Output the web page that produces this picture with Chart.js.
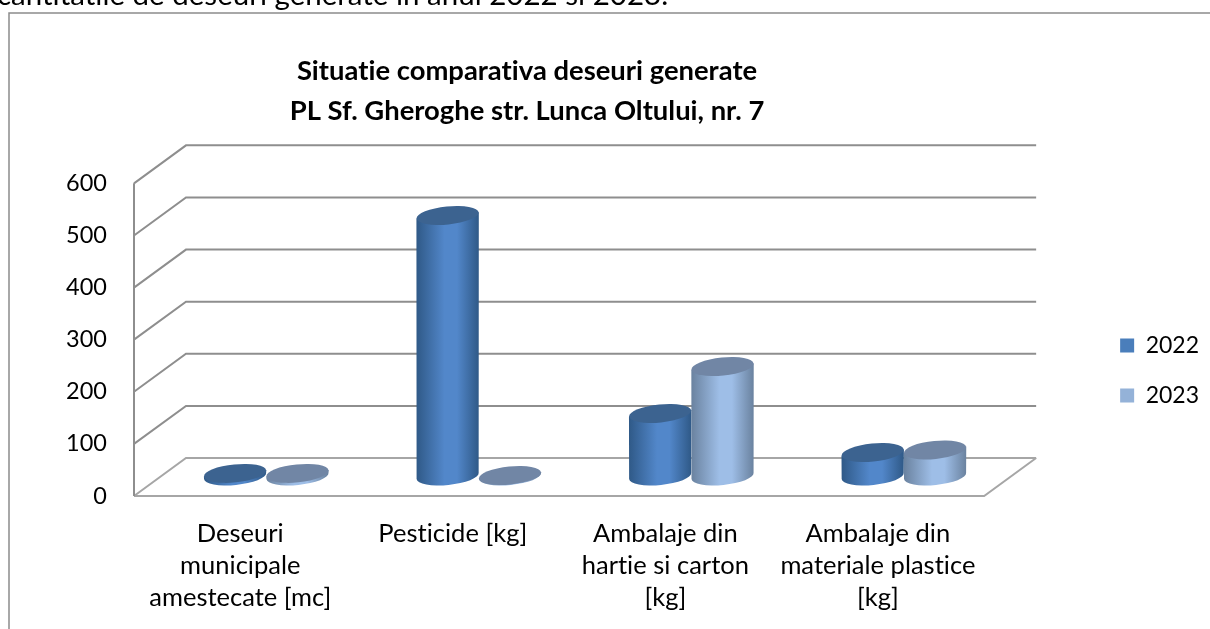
<!DOCTYPE html>
<html>
<head>
<meta charset="utf-8">
<style>
  html, body { margin: 0; padding: 0; background: #fff; overflow: hidden; }
  #wrap { width: 1210px; height: 629px; }
</style>
<script src="https://cdn.jsdelivr.net/npm/chart.js@4/dist/chart.umd.min.js"></script>
</head>
<body>
<div id="wrap"><canvas id="myChart" width="1210" height="629"></canvas></div>
<script>
const categories = [
    ['Deseuri', 'municipale', 'amestecate [mc]'],
    ['Pesticide [kg]'],
    ['Ambalaje din', 'hartie si carton', '[kg]'],
    ['Ambalaje din', 'materiale plastice', '[kg]']
];
const values2022 = [5, 500, 120, 45];
const values2023 = [5, 1, 210, 50];
const seriesNames = ['2022', '2023'];
const yTicks = [0, 100, 200, 300, 400, 500, 600];
const titleLines = ['Situatie comparativa deseuri generate', 'PL Sf. Gheroghe str. Lunca Oltului, nr. 7'];
const captionText = 'cantitatile de deseuri generate in anul 2022 si 2023.';

const FONT = 'Lato, sans-serif';
const DEPTH_X = 52, DEPTH_Y = 38;
const BAR_LIFT = 20;

// side colours of each cylinder: edge, middle, top cap
const tones = [
    { edge: '#2f5987', mid: '#5287ca', cap: '#3c6390' },
    { edge: '#6a829f', mid: '#9ebee7', cap: '#7186a5' }
];

// bar controller that paints cylinders in place of flat rectangles
class CylinderController extends Chart.BarController {
    draw() {
        const ctx = this.chart.ctx;
        const tone = tones[this.index];
        this.getMeta().data.forEach(bar => {
            const cx = bar.x + DEPTH_X / 2;
            const top = bar.y - BAR_LIFT;
            const bottom = bar.base - BAR_LIFT;
            const rx = bar.width / 2;
            const ry = 9;
            const tilt = -0.1;
            const lift = Math.sin(tilt) * rx;

            ctx.save();
            const grad = ctx.createLinearGradient(cx - rx, 0, cx + rx, 0);
            grad.addColorStop(0, tone.edge);
            grad.addColorStop(0.45, tone.mid);
            grad.addColorStop(0.65, tone.mid);
            grad.addColorStop(1, tone.edge);
            ctx.fillStyle = grad;
            ctx.beginPath();
            ctx.ellipse(cx, bottom, rx, ry, tilt, 0, Math.PI);
            ctx.lineTo(cx - rx, top - lift);
            ctx.lineTo(cx + rx, top + lift);
            ctx.closePath();
            ctx.fill();

            ctx.fillStyle = tone.cap;
            ctx.beginPath();
            ctx.ellipse(cx, top, rx, ry, tilt, 0, Math.PI * 2);
            ctx.fill();
            ctx.restore();
        });
    }
}
CylinderController.id = 'cylinder';
CylinderController.defaults = Chart.BarController.defaults;
CylinderController.overrides = Chart.BarController.overrides;
Chart.register(CylinderController);

// outer frame, clipped line of text above it, and the 3D walls behind the bars
const wallsPlugin = {
    id: 'walls',
    afterLayout(chart) {
        chart.titleBlock.left -= 46;
        chart.legend.left += 109;
        chart.legend.right += 109;
        chart.legend.top += 56;
        chart.legend.bottom += 56;
    },
    beforeDraw(chart) {
        chart.ctx.letterSpacing = '0.01px'; // stops the ti ligature, the reference has none
    },
    beforeDatasetsDraw(chart) {
        const ctx = chart.ctx;
        const { x, y } = chart.scales;
        ctx.save();

        ctx.fillStyle = '#000';
        ctx.font = '29.5px ' + FONT;
        ctx.textBaseline = 'alphabetic';
        ctx.fillText(captionText, -3, 5);

        ctx.strokeStyle = '#8c8c8c';
        ctx.lineWidth = 1.5;
        ctx.beginPath();
        ctx.moveTo(9, 629);
        ctx.lineTo(9, 13);
        ctx.lineTo(1210, 13);
        ctx.stroke();

        ctx.lineWidth = 2;
        yTicks.forEach(v => {
            const py = y.getPixelForValue(v);
            ctx.strokeStyle = v === 0 ? '#a6a6a6' : '#8e8e8e';
            ctx.beginPath();
            ctx.moveTo(x.left, py);
            ctx.lineTo(x.left + DEPTH_X, py - DEPTH_Y);
            ctx.lineTo(x.right + DEPTH_X, py - DEPTH_Y);
            ctx.stroke();
        });

        ctx.strokeStyle = '#a6a6a6';
        ctx.beginPath();
        ctx.moveTo(x.left, y.bottom);
        ctx.lineTo(x.right, y.bottom);
        ctx.lineTo(x.right + DEPTH_X, y.bottom - DEPTH_Y);
        ctx.stroke();

        ctx.strokeStyle = '#8e8e8e';
        ctx.beginPath();
        ctx.moveTo(x.left, y.top);
        ctx.lineTo(x.left, y.bottom);
        ctx.stroke();
        ctx.restore();
    }
};

const ctx = document.getElementById('myChart').getContext('2d');
new Chart(ctx, {
    type: 'cylinder',
    data: {
        labels: categories,
        datasets: [
            { label: seriesNames[0], data: values2022, backgroundColor: '#4a7ebb' },
            { label: seriesNames[1], data: values2023, backgroundColor: '#94b2d8' }
        ]
    },
    plugins: [wallsPlugin],
    options: {
        responsive: false,
        animation: false,
        categoryPercentage: 0.587,
        barPercentage: 1,
        layout: { padding: { left: 0, right: 110, top: 0, bottom: 0 } },
        plugins: {
            tooltip: { enabled: false },
            title: {
                display: true,
                text: titleLines,
                color: '#000',
                font: { family: FONT, size: 27.4, weight: 'bold', lineHeight: 1.43 },
                padding: { top: 52, bottom: 53 }
            },
            legend: {
                position: 'right',
                labels: {
                    color: '#000',
                    font: { family: FONT, size: 23 },
                    boxWidth: 14,
                    boxHeight: 14,
                    padding: 27
                }
            }
        },
        scales: {
            x: {
                border: { display: false },
                grid: { display: false },
                ticks: {
                    color: '#000',
                    font: { family: FONT, size: 25.5, lineHeight: 1.25 },
                    maxRotation: 0,
                    autoSkip: false,
                    padding: 14
                },
                afterFit(scale) { scale.height = 133; }
            },
            y: {
                min: 0,
                max: 600,
                border: { display: false },
                grid: { display: false },
                ticks: {
                    color: '#000',
                    font: { family: FONT, size: 23.5 },
                    stepSize: 100,
                    padding: 19
                },
                afterFit(scale) { scale.width = 134; }
            }
        }
    }
});
</script>
</body>
</html>
